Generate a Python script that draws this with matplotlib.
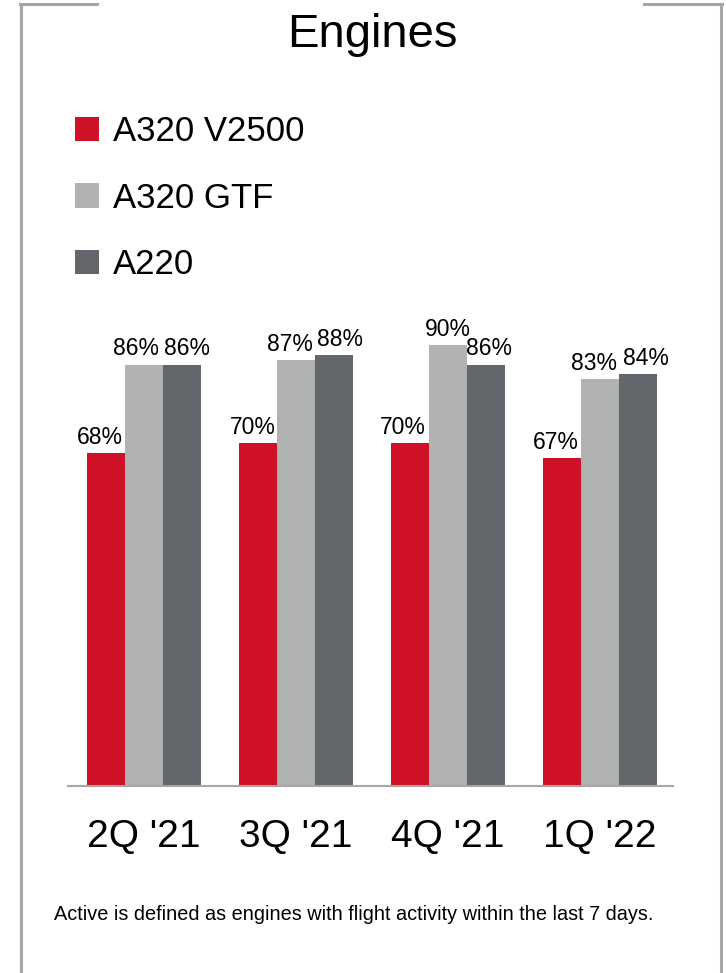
import numpy as np
import matplotlib.pyplot as plt
from matplotlib.lines import Line2D

plt.rcParams['font.family'] = ['Liberation Sans', 'DejaVu Sans']

# data ---------------------------------------------------------------
quarters = ["2Q '21", "3Q '21", "4Q '21", "1Q '22"]
series = ['A320 V2500', 'A320 GTF', 'A220']
v2500 = [68, 70, 70, 67]
gtf = [86, 87, 90, 83]
a220 = [86, 88, 86, 84]
colors = ['#CE1126', '#B1B3B3', '#63666A']

# horizontal nudges (px) so neighbouring value labels don't collide
nudge = [[-6, -5, -7, -6],
         [-8, -6, 0, -6],
         [5, 6, 3, 8]]

W, H = 726, 973
fig = plt.figure(figsize=(W / 100, H / 100), dpi=100)
ax = fig.add_axes([68 / W, (H - 786) / H, 605 / W, 490 / H])

x = np.arange(len(quarters))
width = 0.25
for i, (vals, name, c) in enumerate(zip([v2500, gtf, a220], series, colors)):
    bars = ax.bar(x + (i - 1) * width, vals, width, color=c, label=name)
    for j, (b, v) in enumerate(zip(bars, vals)):
        ax.annotate(f'{v}%', (b.get_x() + b.get_width() / 2, b.get_height()),
                    xytext=(nudge[i][j] * 0.72, 3), textcoords='offset points',
                    ha='center', va='bottom', fontsize=16.5, annotation_clip=False)

ax.set_xlim(-0.5, 3.48)
ax.set_ylim(0, 100)
ax.set_xticks(x)
ax.set_xticklabels(quarters, fontsize=28)
ax.tick_params(axis='x', length=0, pad=24)
ax.set_yticks([])
for s in ['top', 'right', 'left']:
    ax.spines[s].set_visible(False)
ax.spines['bottom'].set_color('#A6A6A6')
ax.spines['bottom'].set_linewidth(1.5)

ax.legend(loc='upper left', bbox_to_anchor=(75 / W, 1 - 115 / H),
          bbox_transform=fig.transFigure, frameon=False, fontsize=25,
          handlelength=0.69, handleheight=0.69, handletextpad=0.4,
          labelspacing=0.97, borderpad=0, borderaxespad=0)

fig.text(372 / W, 1 - 47 / H, 'Engines', ha='center', va='baseline', fontsize=34)
fig.text(54 / W, 1 - 920 / H,
         'Active is defined as engines with flight activity within the last 7 days.',
         ha='left', va='baseline', fontsize=14.3)

# frame corners
gray = '#A6A6A6'
lw = 2.2
fig.add_artist(Line2D([21 / W, 21 / W], [0, 1 - 4 / H], color=gray, lw=lw))
fig.add_artist(Line2D([20 / W, 97 / W], [1 - 4 / H, 1 - 4 / H], color=gray, lw=lw))
fig.add_artist(Line2D([721 / W, 721 / W], [0, 1 - 4 / H], color=gray, lw=lw))
fig.add_artist(Line2D([644 / W, 722 / W], [1 - 4 / H, 1 - 4 / H], color=gray, lw=lw))

fig.savefig('out.png', dpi=100)
